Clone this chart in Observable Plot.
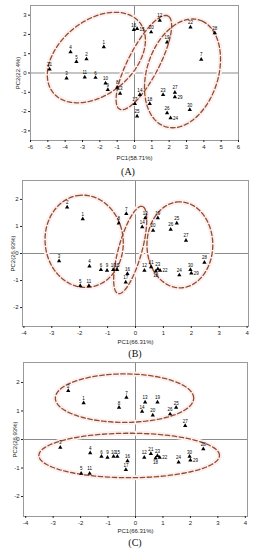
<!DOCTYPE html>
<html><head><meta charset="utf-8">
<script src="https://cdn.jsdelivr.net/npm/d3@7"></script>
<script src="https://cdn.jsdelivr.net/npm/@observablehq/plot@0.6"></script>
<style>
body{margin:0;background:#fff;width:257px;height:550px;overflow:hidden;position:relative;font-family:Arial,"Liberation Sans",sans-serif;}
.panel{position:absolute;left:0;}
.cap{position:absolute;font-family:"Liberation Serif","DejaVu Serif",serif;font-size:10px;transform:translate(-50%,-50%);color:#111;}
</style></head><body>
<div id="A" class="panel" style="top:0px"></div>
<div class="cap" style="left:128px;top:171px">(A)</div>
<div id="B" class="panel" style="top:176px"></div>
<div class="cap" style="left:135px;top:353px">(B)</div>
<div id="C" class="panel" style="top:358px"></div>
<div class="cap" style="left:135px;top:542px">(C)</div>
<script>
// ---- Panel A data ----
const labelsA = ["21","3","4","5","2","11","6","1","10","9","8","13","16","15","17","25","14","12","20","19","18","23","27","29","26","24","30","22","28","7"];
const pc1A = [-4.9,-3.92,-3.69,-3.35,-2.77,-2.87,-2.25,-1.77,-1.67,-1.54,-1.0,-0.83,-0.04,0.15,0.02,0.15,0.31,1.46,0.96,1.88,0.88,1.65,2.33,2.33,1.88,2.08,3.19,3.23,4.63,3.85];
const pc2A = [0.19,-0.27,1.09,0.58,0.72,-0.22,-0.24,1.35,-0.53,-0.87,-0.75,-1.06,2.24,2.29,-1.6,-2.24,-1.13,2.72,2.12,1.6,-1.59,-1.13,-1.01,-1.25,-2.07,-2.33,-1.9,2.37,2.07,0.70];
const ticksXA = [-6,-5,-4,-3,-2,-1,0,1,2,3,4,5,6];
const ticksYA = [-3,-2,-1,0,1,2,3];
const ellACx = [-2.2, 0.54, 2.77];
const ellACy = [0.8, 0.54, -0.02];
const ellARx = [3.1, 2.79, 2.94];
const ellARy = [1.98, 0.87, 2.03];
const ellAAng = [32, 59.5, 67];

// ---- Panels B and C data (same scores) ----
const labelsBC = ["1","2","3","4","5","6","7","8","9","10","11","12","13","14","15","16","17","18","19","20","21","22","23","24","25","26","27","28","29","30"];
const pc1BC = [-1.89,-2.45,-2.74,-1.65,-1.98,-1.24,-0.33,-0.6,-1.02,-0.8,-1.67,0.32,0.35,0.24,-0.66,-0.29,-0.35,0.73,0.8,0.63,0.56,0.88,0.8,1.57,1.48,1.26,1.81,2.47,2.0,1.97];
const pc2BC = [1.28,1.71,-0.28,-0.47,-1.19,-0.6,1.47,1.12,-0.63,-0.6,-1.19,-0.63,1.31,0.98,-0.6,-0.75,-1.06,-0.66,1.31,0.85,-0.5,-0.63,-0.57,-0.8,1.12,0.89,0.48,-0.33,-0.73,-0.6];
const ticksXBC = [-4,-3,-2,-1,0,1,2,3,4];
const ticksYBC = [-2,-1,0,1,2];
const ellBCx = [-1.84, -0.19, 1.59];
const ellBCy = [0.45, 0.13, 0.32];
const ellBRx = [1.71, 1.67, 1.59];
const ellBRy = [1.4, 0.42, 1.18];
const ellBAng = [95, 75, 90];
const ellCCx = [-0.4, -0.23];
const ellCCy = [1.45, -0.56];
const ellCRx = [2.52, 3.29];
const ellCRy = [0.85, 0.78];
const ellCAng = [0, 0];

const rightA = new Set(["24","29","15"]);
const rightBC = new Set(["22","29"]);
const belowBC = new Set(["18"]);

function ellipsePoints(cx, cy, rx, ry, ang) {
  const out = [];
  cx.forEach((_, i) => {
    const a = ang[i] * Math.PI / 180;
    for (let k = 0; k <= 90; k++) {
      const t = k / 90 * 2 * Math.PI;
      out.push({id: i,
        x: cx[i] + rx[i] * Math.cos(t) * Math.cos(a) - ry[i] * Math.sin(t) * Math.sin(a),
        y: cy[i] + rx[i] * Math.cos(t) * Math.sin(a) + ry[i] * Math.sin(t) * Math.cos(a)});
    }
  });
  return out;
}

function panel(o) {
  const idx = o.labels.map((_, i) => i);
  const ell = ellipsePoints(o.ecx, o.ecy, o.erx, o.ery, o.eang);
  const lab = (i) => o.labels[i];
  return Plot.plot({
    width: 257, height: o.height,
    marginTop: o.mt, marginBottom: o.mb, marginLeft: o.ml, marginRight: o.mr,
    style: {fontSize: "6px", fontFamily: "Arial, 'Liberation Sans', sans-serif", color: "#222", background: "transparent"},
    x: {domain: o.xd},
    y: {domain: o.yd},
    marks: [
      Plot.ruleX([0], {stroke: "#8a8a8a", strokeWidth: 1}),
      Plot.ruleY([0], {stroke: "#8a8a8a", strokeWidth: 1}),
      Plot.frame({stroke: "#9a9a9a", strokeWidth: 1}),
      Plot.line(ell, {x: "x", y: "y", z: "id", stroke: "#fdeef0", strokeWidth: 5, curve: "linear"}),
      Plot.line(ell, {x: "x", y: "y", z: "id", stroke: "#8e4f2c", strokeWidth: 1.3, strokeDasharray: "4.5,2.5", curve: "linear"}),
      Plot.axisX({ticks: o.tx, tickFormat: d => String(d), tickSize: 2, tickPadding: 2, fontSize: 6, label: o.xl, labelAnchor: "center", labelOffset: o.xlo, labelArrow: false}),
      Plot.axisY({ticks: o.ty, tickFormat: d => String(d), tickSize: 2, tickPadding: 2, fontSize: 6, label: o.yl, labelAnchor: "center", labelOffset: o.ylo, labelArrow: false}),
      Plot.dot(idx, {x: o.px, y: o.py, symbol: "triangle", r: 1.6, fill: "#000", stroke: "none"}),
      Plot.text(idx, {filter: i => !o.right.has(lab(i)) && !o.below.has(lab(i)), x: o.px, y: o.py, text: lab, dy: -4.5, fontSize: 4.5, fill: "#000"}),
      Plot.text(idx, {filter: i => o.right.has(lab(i)), x: o.px, y: o.py, text: lab, dx: 2.5, dy: 0.5, textAnchor: "start", fontSize: 4.5, fill: "#000"}),
      Plot.text(idx, {filter: i => o.below.has(lab(i)), x: o.px, y: o.py, text: lab, dy: 4.5, fontSize: 4.5, fill: "#000"})
    ]
  });
}

document.getElementById("A").append(panel({
  labels: labelsA, px: pc1A, py: pc2A, ecx: ellACx, ecy: ellACy, erx: ellARx, ery: ellARy, eang: ellAAng,
  height: 162, mt: 5, mb: 22, ml: 30, mr: 19, xd: [-6, 6], yd: [-3.5, 3.5], tx: ticksXA, ty: ticksYA,
  xl: "PC1(58.71%)", yl: "PC2(22.4%)", xlo: 19, ylo: 15, right: rightA, below: new Set()
}));
document.getElementById("B").append(panel({
  labels: labelsBC, px: pc1BC, py: pc2BC, ecx: ellBCx, ecy: ellBCy, erx: ellBRx, ery: ellBRy, eang: ellBAng,
  height: 170, mt: 4, mb: 20, ml: 22, mr: 9, xd: [-4.05, 4.05], yd: [-2.7, 2.7], tx: ticksXBC, ty: ticksYBC,
  xl: "PC1(66.31%)", yl: "PC2(26.93%)", xlo: 17, ylo: 12, right: rightBC, below: belowBC
}));
document.getElementById("C").append(panel({
  labels: labelsBC, px: pc1BC, py: pc2BC, ecx: ellCCx, ecy: ellCCy, erx: ellCRx, ery: ellCRy, eang: ellCAng,
  height: 176, mt: 4, mb: 18, ml: 23, mr: 10, xd: [-4.08, 4.08], yd: [-2.7, 2.7], tx: ticksXBC, ty: ticksYBC,
  xl: "PC1(66.31%)", yl: "PC2(26.93%)", xlo: 16, ylo: 11, right: rightBC, below: belowBC
}));
</script>
</body></html>
